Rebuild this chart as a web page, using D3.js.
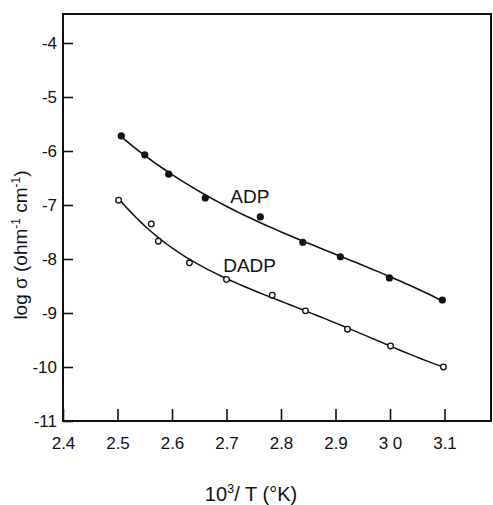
<!DOCTYPE html>
<html>
<head>
<meta charset="utf-8">
<script src="https://cdn.jsdelivr.net/npm/d3@7"></script>
<style>
  body { margin: 0; background: #fff; }
  svg text { font-family: "Liberation Sans", Arial, sans-serif; fill: #111; }
</style>
</head>
<body>
<div id="graphic"></div>
<script>
// values
var adpX = [2.507, 2.55, 2.594, 2.661, 2.762, 2.84, 2.909, 2.999, 3.096];
var adpY = [-5.72, -6.07, -6.43, -6.87, -7.22, -7.69, -7.96, -8.35, -8.76];
var dadpX = [2.502, 2.562, 2.575, 2.632, 2.70, 2.784, 2.845, 2.922, 3.001, 3.098];
var dadpY = [-6.91, -7.35, -7.67, -8.07, -8.38, -8.67, -8.96, -9.30, -9.61, -10.0];
var xTicks = [2.4, 2.5, 2.6, 2.7, 2.8, 2.9, 3.0, 3.1];
var xTickLabels = ["2.4", "2.5", "2.6", "2.7", "2.8", "2.9", "3 0", "3.1"];
var yTicks = [-4, -5, -6, -7, -8, -9, -10, -11];

var width = 493, height = 505;
var frameLeft = 63, frameRight = 491, frameTop = 14, frameBottom = 421;

var x = d3.scaleLinear().domain([2.4, 2.4 + (frameRight - frameLeft) / 545]).range([frameLeft, frameRight]);
var y = d3.scaleLinear().domain([-11, -11 + (frameBottom - frameTop) / 54]).range([frameBottom, frameTop]);

var svg = d3.select("#graphic").append("svg")
  .attr("width", width).attr("height", height);

// frame
svg.append("rect")
  .attr("x", frameLeft).attr("y", frameTop)
  .attr("width", frameRight - frameLeft).attr("height", frameBottom - frameTop)
  .attr("fill", "none").attr("stroke", "#111").attr("stroke-width", 2);

var xAxis = d3.axisBottom(x).tickValues(xTicks).tickSize(-12).tickPadding(16)
  .tickFormat(function(d, i) { return xTickLabels[i]; });
var gx = svg.append("g").attr("transform", "translate(0," + frameBottom + ")").call(xAxis);
gx.select(".domain").remove();
gx.selectAll("line").attr("stroke", "#111").attr("stroke-width", 1.6);
gx.selectAll("text").attr("font-size", 17).style("font-family", "Liberation Sans, Arial, sans-serif");

var yAxis = d3.axisLeft(y).tickValues(yTicks).tickSize(-10).tickPadding(6)
  .tickFormat(function(d) { return String(d); });
var gy = svg.append("g").attr("transform", "translate(" + frameLeft + ",0)").call(yAxis);
gy.select(".domain").remove();
gy.selectAll("line").attr("stroke", "#111").attr("stroke-width", 1.6);
gy.selectAll("text").attr("font-size", 17).style("font-family", "Liberation Sans, Arial, sans-serif");

// least-squares polynomial through the measured points, for the drawn curve
function polyFit(xs, ys, deg) {
  var mx = d3.mean(xs);
  var n = deg + 1, A = [], b = [];
  for (var i = 0; i < n; i++) {
    A.push([]);
    for (var j = 0; j < n; j++) {
      A[i].push(d3.sum(xs, function(v) { return Math.pow(v - mx, i + j); }));
    }
    b.push(d3.sum(xs, function(v, k) { return ys[k] * Math.pow(v - mx, i); }));
  }
  for (var c = 0; c < n; c++) {
    for (var r = c + 1; r < n; r++) {
      var f = A[r][c] / A[c][c];
      for (var k = c; k < n; k++) A[r][k] -= f * A[c][k];
      b[r] -= f * b[c];
    }
  }
  var coef = new Array(n);
  for (var r2 = n - 1; r2 >= 0; r2--) {
    var s = b[r2];
    for (var k2 = r2 + 1; k2 < n; k2++) s -= A[r2][k2] * coef[k2];
    coef[r2] = s / A[r2][r2];
  }
  return function(v) {
    return d3.sum(coef, function(cf, p) { return cf * Math.pow(v - mx, p); });
  };
}

function fitCurve(xs, ys, deg) {
  var f = polyFit(xs, ys, deg);
  var x0 = xs[0], x1 = xs[xs.length - 1];
  return d3.range(0, 61).map(function(i) {
    var v = x0 + (x1 - x0) * i / 60;
    return [v, f(v)];
  });
}

var line = d3.line().curve(d3.curveBasis)
  .x(function(d) { return x(d[0]); })
  .y(function(d) { return y(d[1]); });

var adp = d3.zip(adpX, adpY);
var dadp = d3.zip(dadpX, dadpY);

svg.append("path").datum(fitCurve(adpX, adpY, 3)).attr("d", line)
  .attr("fill", "none").attr("stroke", "#111").attr("stroke-width", 1.6);
svg.append("path").datum(fitCurve(dadpX, dadpY, 4)).attr("d", line)
  .attr("fill", "none").attr("stroke", "#111").attr("stroke-width", 1.5);

svg.selectAll(".adp").data(adp).enter().append("circle")
  .attr("class", "adp")
  .attr("cx", function(d) { return x(d[0]); })
  .attr("cy", function(d) { return y(d[1]); })
  .attr("r", 3.6).attr("fill", "#111");

svg.selectAll(".dadp").data(dadp).enter().append("circle")
  .attr("class", "dadp")
  .attr("cx", function(d) { return x(d[0]); })
  .attr("cy", function(d) { return y(d[1]); })
  .attr("r", 2.8).attr("fill", "#fff").attr("stroke", "#111").attr("stroke-width", 1.3);

// series labels
svg.append("text").attr("x", x(2.707)).attr("y", y(-6.96))
  .attr("font-size", 19).text("ADP");
svg.append("text").attr("x", x(2.694)).attr("y", y(-8.24))
  .attr("font-size", 19).text("DADP");

// axis titles
var yt = svg.append("text")
  .attr("transform", "translate(27,245) rotate(-90)")
  .attr("text-anchor", "middle").attr("font-size", 19);
yt.append("tspan").text("log σ (ohm");
yt.append("tspan").attr("dy", -7).attr("font-size", 12).text("-1");
yt.append("tspan").attr("dy", 7).text(" cm");
yt.append("tspan").attr("dy", -7).attr("font-size", 12).text("-1");
yt.append("tspan").attr("dy", 7).text(")");

var xt = svg.append("text")
  .attr("x", 251).attr("y", 501)
  .attr("text-anchor", "middle").attr("font-size", 20);
xt.append("tspan").text("10");
xt.append("tspan").attr("dy", -8).attr("font-size", 13).text("3");
xt.append("tspan").attr("dy", 8).text("/ T (°K)");
</script>
</body>
</html>
